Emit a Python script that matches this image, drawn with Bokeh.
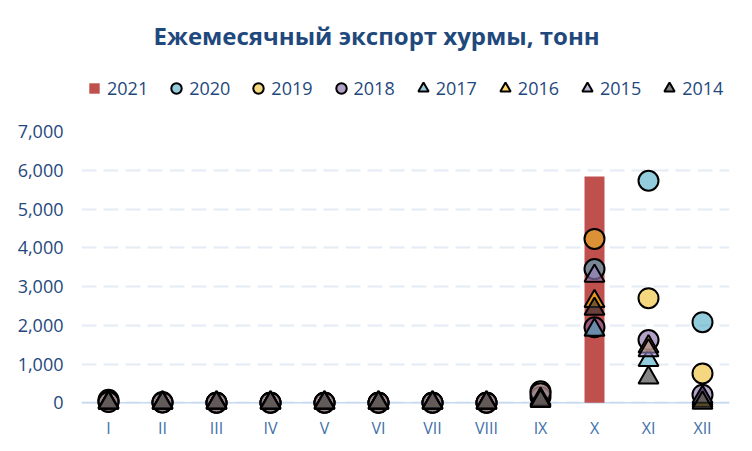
from bokeh.plotting import figure
from bokeh.layouts import column
from bokeh.models import (FactorRange, Range1d, FixedTicker, NumeralTickFormatter,
                          Legend, LegendItem, Span, ColumnDataSource)
from bokeh.embed import file_html
from bokeh.resources import INLINE

months = ["I", "II", "III", "IV", "V", "VI", "VII", "VIII", "IX", "X", "XI", "XII"]
y2021 = [0, 0, 0, 0, 0, 0, 0, 0, 0, 5840, None, None]
y2020 = [80, 20, 10, 10, 10, 10, 10, 10, 150, 3450, 5730, 2080]
y2019 = [30, 10, 5, 5, 5, 5, 5, 5, 300, 4230, 2700, 760]
y2018 = [20, 10, 5, 5, 5, 5, 5, 5, 250, 1950, 1620, 210]
y2017 = [10, 5, 5, 5, 5, 5, 5, 5, 100, 1880, 1100, 100]
y2016 = [10, 5, 5, 5, 5, 5, 5, 5, 80, 2620, 1450, 50]
y2015 = [5, 5, 5, 5, 5, 5, 5, 5, 60, 3270, 1350, 150]
y2014 = [0, 0, 0, 0, 0, 0, 0, 0, 40, 2420, 650, 0]
y_ticks = [0, 1000, 2000, 3000, 4000, 5000, 6000, 7000]

title_txt = "Ежемесячный экспорт хурмы, тонн"
FONT = "Open Sans"
DARK = "#1f497d"

series = [
    ("2020", "y2020", "circle", "#4bacc6"),
    ("2019", "y2019", "circle", "#eebd2a"),
    ("2018", "y2018", "circle", "#8064a2"),
    ("2017", "y2017", "triangle", "#4bacc6"),
    ("2016", "y2016", "triangle", "#ffc000"),
    ("2015", "y2015", "triangle", "#9b86c4"),
    ("2014", "y2014", "triangle", "#333333"),
]

# ---- header figure: title + legend ----
top = figure(width=752, height=124, output_backend="svg", toolbar_location=None,
             x_axis_type=None, y_axis_type=None, x_range=Range1d(0, 1), y_range=Range1d(0, 1),
             min_border_left=0, min_border_right=0, min_border_bottom=0, min_border_top=51,
             title=title_txt)
top.outline_line_color = None
top.grid.visible = False
top.title.align = "left"
top.title.offset = 72
top.title.text_font = FONT
top.title.text_font_size = "24px"
top.title.text_font_style = "bold"
top.title.text_color = DARK
top.title.standoff = 0

# legend-only swatches (placed outside the visible range, so only the legend shows them)
off = dict(x=[-5], y=[-5])
items = []
r21 = top.scatter(marker="square", size=12, fill_color="#c0504d", line_color=None, **off)
items.append(LegendItem(label="2021", renderers=[r21]))
for lab, col, mk, color in series:
    r = top.scatter(marker=mk, size=20, fill_color=color, fill_alpha=0.6,
                    line_color="black", line_width=2, **off)
    items.append(LegendItem(label=lab, renderers=[r]))

legend = Legend(items=items, orientation="horizontal", location=(0, 23),
                glyph_width=26, glyph_height=26, label_standoff=0, spacing=15,
                padding=0, margin=0, border_line_color=None, background_fill_alpha=0,
                label_text_font=FONT, label_text_font_size="18px", label_text_color=DARK)
top.add_layout(legend)

# ---- main chart ----
p = figure(x_range=FactorRange(factors=months, range_padding=0),
           y_range=Range1d(-300, 7000),
           width=752, height=327, output_backend="svg", toolbar_location=None,
           min_border_left=81, min_border_right=23, min_border_top=7,
           min_border_bottom=37)

p.outline_line_color = None
p.xgrid.grid_line_color = None
p.ygrid.grid_line_color = "#e4ecf5"
p.ygrid.grid_line_width = 2
p.ygrid.grid_line_dash = "15 7"
p.ygrid.ticker = FixedTicker(ticks=y_ticks)

p.yaxis.ticker = FixedTicker(ticks=y_ticks)
p.yaxis.formatter = NumeralTickFormatter(format="0,0")
p.yaxis.axis_line_color = None
p.yaxis.major_tick_line_color = None
p.yaxis.minor_tick_line_color = None
p.yaxis.major_tick_out = 0
p.yaxis.minor_tick_out = 0
p.yaxis.major_label_standoff = 18
p.yaxis.major_label_text_font = FONT
p.yaxis.major_label_text_font_size = "18px"
p.yaxis.major_label_text_color = DARK

p.xaxis.axis_line_color = None
p.xaxis.major_tick_line_color = None
p.xaxis.major_tick_out = 0
p.xaxis.major_label_standoff = 2
p.xaxis.major_label_text_font = FONT
p.xaxis.major_label_text_font_size = "16px"
p.xaxis.major_label_text_color = "#4170a8"

base = Span(location=0, dimension="width", line_color="#c6d9f0", line_width=1.5, level="underlay")
p.add_layout(base)

src = ColumnDataSource(dict(m=months, y2021=y2021, y2020=y2020, y2019=y2019, y2018=y2018,
                            y2017=y2017, y2016=y2016, y2015=y2015, y2014=y2014))

p.vbar(x="m", top="y2021", width=0.37, source=src, fill_color="#c0504d", line_color=None)
for lab, col, mk, color in series:
    p.scatter(x="m", y=col, source=src, marker=mk, size=20, fill_color=color,
              fill_alpha=0.6, line_color="black", line_width=2)

layout = column(top, p, spacing=0)
open("out.html", "w").write(file_html(layout, INLINE))
